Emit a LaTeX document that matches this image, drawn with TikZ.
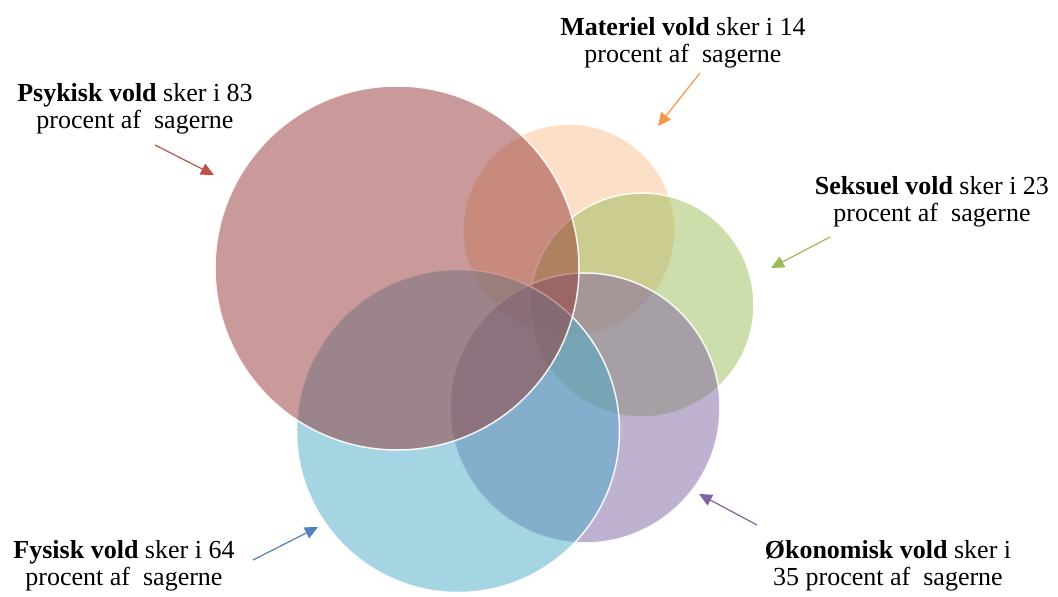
\documentclass[tikz,border=0pt]{standalone}
\usepackage{fontspec}
\setmainfont{Liberation Serif}
\usetikzlibrary{arrows.meta}

\definecolor{psykred}{RGB}{148,54,52}
\definecolor{matpeach}{RGB}{250,192,144}
\definecolor{seksgreen}{RGB}{155,187,89}
\definecolor{okopurple}{RGB}{128,100,162}
\definecolor{fysblue}{RGB}{75,172,198}

\definecolor{arrred}{RGB}{192,80,77}
\definecolor{arrorange}{RGB}{247,150,70}
\definecolor{arrgreen}{RGB}{155,187,89}
\definecolor{arrpurple}{RGB}{128,100,162}
\definecolor{arrblue}{RGB}{79,129,189}

\tikzset{
  venn/.style={circle, draw=white, line width=1.5pt, fill opacity=0.5, draw opacity=0.9, inner sep=0pt},
  label/.style={align=center, font=\fontsize{26}{27.5}\selectfont},
  pointer/.style={line width=1.2pt, -{Triangle[length=13pt,width=12pt]}}
}

\begin{document}
\begin{tikzpicture}[x=1pt,y=-1pt]
  \useasboundingbox (0,0) rectangle (1058,597);

  % circles, back to front
  \node[venn, fill=matpeach, minimum size=212pt] (materiel) at (569,230) {};
  \node[venn, fill=seksgreen, minimum size=224pt] (seksuel) at (642,305) {};
  \node[venn, fill=okopurple, minimum size=270pt] (okonomisk) at (585,408) {};
  \node[venn, fill=fysblue, minimum size=323pt] (fysisk) at (458,431) {};
  \node[venn, fill=psykred, minimum size=364pt] (psykisk) at (397,268) {};

  % labels
  \node[label] (psyklabel) at (135,109) {\textbf{Psykisk vold} sker i 83\\procent af~ sagerne};
  \node[label] (matlabel) at (683,43) {\textbf{Materiel vold} sker i 14\\procent af~ sagerne};
  \node[label] (sekslabel) at (932,202) {\textbf{Seksuel vold} sker i 23\\procent af~ sagerne};
  \node[label] (okolabel) at (888,566) {\textbf{Økonomisk vold} sker i\\35 procent af~ sagerne};
  \node[label] (fyslabel) at (124,566) {\textbf{Fysisk vold} sker i 64\\procent af~ sagerne};

  % pointers
  \coordinate (psyktail) at (155,145);
  \coordinate (psyktip) at (214,175);
  \coordinate (mattail) at (700,73);
  \coordinate (mattip) at (658,126);
  \coordinate (sekstail) at (830,237);
  \coordinate (sekstip) at (771,268);
  \coordinate (okotail) at (757,525);
  \coordinate (okotip) at (699,494);
  \coordinate (fystail) at (253,560);
  \coordinate (fystip) at (318,527);

  \draw[pointer, arrred] (psyktail) -- (psyktip);
  \draw[pointer, arrorange] (mattail) -- (mattip);
  \draw[pointer, arrgreen] (sekstail) -- (sekstip);
  \draw[pointer, arrpurple] (okotail) -- (okotip);
  \draw[pointer, arrblue] (fystail) -- (fystip);
\end{tikzpicture}
\end{document}
